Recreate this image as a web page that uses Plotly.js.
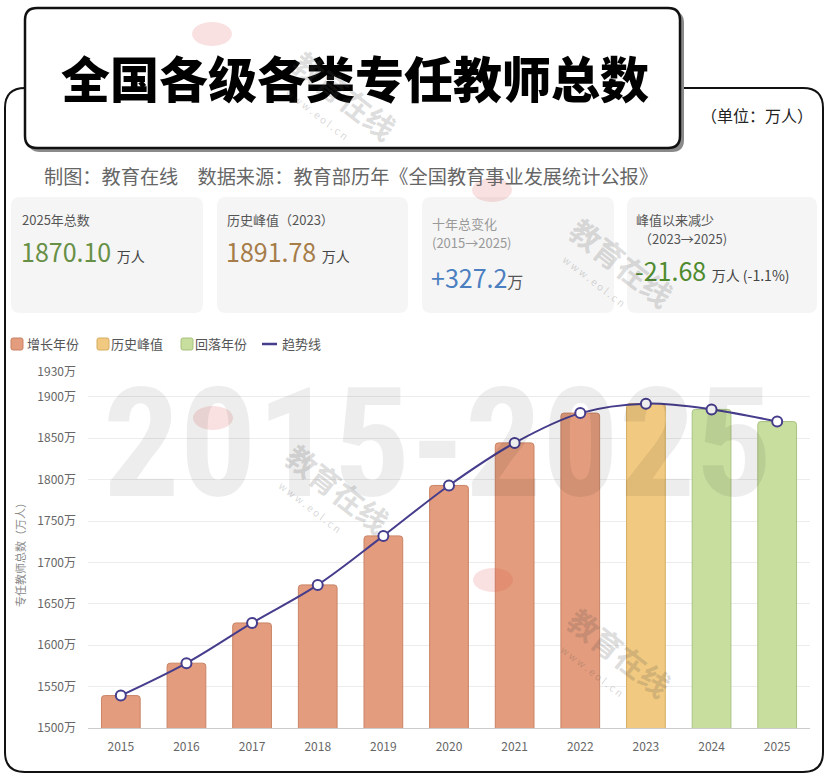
<!DOCTYPE html>
<html>
<head>
<meta charset="utf-8">
<script src="https://cdn.plot.ly/plotly-3.0.1.min.js"></script>
<style>html,body{margin:0;padding:0;background:#fff;}#chart{width:830px;height:778px;}</style>
</head>
<body>
<div id="chart"></div>
<script>
// ---- data ----
const years = ['2015','2016','2017','2018','2019','2020','2021','2022','2023','2024','2025'];
const teachers = [1539.16, 1578.29, 1626.89, 1672.85, 1732.03, 1792.97, 1844.37, 1880.36, 1891.78, 1884.8, 1870.10];
const yearStatus = ['增长年份','增长年份','增长年份','增长年份','增长年份','增长年份','增长年份','增长年份','历史峰值','回落年份','回落年份'];
const yTickVals = [1500, 1550, 1600, 1650, 1700, 1750, 1800, 1850, 1900, 1930];
const yTickText = ['1500万','1550万','1600万','1650万','1700万','1750万','1800万','1850万','1900万','1930万'];
const groupNames = ['增长年份','历史峰值','回落年份'];
const lineName = '趋势线';

const titleText = '全国各级各类专任教师总数';
const unitText = '（单位：万人）';
const sourceText = '制图：教育在线　数据来源：教育部历年《全国教育事业发展统计公报》';
const yTitle = '专任教师总数（万人）';
const watermark = '2015-2025';
const stampText = '教育在线';
const stampUrl = 'w w w . e o l . c n';

// ---- styles ----
const groupFill = {'增长年份':'#E39C7D','历史峰值':'#F1C980','回落年份':'#C8DE9F'};
const groupLine = {'增长年份':'#C98466','历史峰值':'#D5AD62','回落年份':'#A8C27F'};
const lineColor = '#463D8C';

// plot area in pixels
const L = 88, R = 810, T = 372, B = 728;
const px = x => (x - L) / (R - L);
const py = y => (B - y) / (B - T);

function rr(x0, y0, x1, y1, r) {
  const X = px, Y = py;
  return `M${X(x0+r)},${Y(y0)} L${X(x1-r)},${Y(y0)} Q${X(x1)},${Y(y0)} ${X(x1)},${Y(y0+r)} ` +
         `L${X(x1)},${Y(y1-r)} Q${X(x1)},${Y(y1)} ${X(x1-r)},${Y(y1)} L${X(x0+r)},${Y(y1)} ` +
         `Q${X(x0)},${Y(y1)} ${X(x0)},${Y(y1-r)} L${X(x0)},${Y(y0+r)} Q${X(x0)},${Y(y0)} ${X(x0+r)},${Y(y0)} Z`;
}

const traces = [];
groupNames.forEach(g => {
  const xs = [], ys = [];
  years.forEach((yr, i) => { if (yearStatus[i] === g) { xs.push(yr); ys.push(teachers[i]); } });
  traces.push({
    type: 'bar', name: g, x: xs, y: ys,
    marker: {color: groupFill[g], line: {color: groupLine[g], width: 1}, cornerradius: 3},
    hoverinfo: 'x+y', showlegend: false
  });
});
traces.push({
  type: 'scatter', mode: 'lines+markers', name: lineName, x: years, y: teachers,
  line: {color: lineColor, width: 2, shape: 'spline', smoothing: 1},
  marker: {size: 10, color: '#ffffff', line: {color: lineColor, width: 2}},
  showlegend: false
});

const shapes = [
  // outer frame
  {type:'path', xref:'paper', yref:'paper', path: rr(5, 88, 823, 772, 20), line:{color:'#111', width:2}, fillcolor:'rgba(0,0,0,0)', layer:'below'},
  // cards
  {type:'path', xref:'paper', yref:'paper', path: rr(11, 197, 203, 313, 9), line:{width:0}, fillcolor:'#F5F5F5', layer:'below'},
  {type:'path', xref:'paper', yref:'paper', path: rr(217, 197, 408, 313, 9), line:{width:0}, fillcolor:'#F5F5F5', layer:'below'},
  {type:'path', xref:'paper', yref:'paper', path: rr(422, 197, 614, 313, 9), line:{width:0}, fillcolor:'#F5F5F5', layer:'below'},
  {type:'path', xref:'paper', yref:'paper', path: rr(627, 197, 817, 313, 9), line:{width:0}, fillcolor:'#F5F5F5', layer:'below'},
  // title box shadow + box
  {type:'path', xref:'paper', yref:'paper', path: rr(28, 11, 684, 152, 12), line:{width:0}, fillcolor:'#8a8a8a', layer:'above'},
  {type:'path', xref:'paper', yref:'paper', path: rr(25, 8, 680, 148, 12), line:{color:'#111', width:2.5}, fillcolor:'#ffffff', layer:'above'}
];

// manual legend keys
const legendKeys = [
  {name: groupNames[0], x: 11, tx: 27},
  {name: groupNames[1], x: 97, tx: 111},
  {name: groupNames[2], x: 181, tx: 195},
  {name: lineName, x: 262, tx: 282}
];
legendKeys.forEach(k => {
  if (k.name === lineName) {
    shapes.push({type:'line', xref:'paper', yref:'paper', x0: px(k.x), x1: px(k.x + 15), y0: py(344), y1: py(344),
                 line:{color: lineColor, width: 2.5}, layer:'above'});
  } else {
    shapes.push({type:'path', xref:'paper', yref:'paper', path: rr(k.x, 338, k.x + 12, 350, 2),
                 line:{color: groupLine[k.name], width: 1}, fillcolor: groupFill[k.name], layer:'above'});
  }
});

// faint stamp logos
const stamps = [[212, 34], [213, 418], [493, 580], [492, 190]];
stamps.forEach(s => {
  shapes.push({type:'circle', xref:'paper', yref:'paper', x0: px(s[0]-20), x1: px(s[0]+20), y0: py(s[1]-12), y1: py(s[1]+12),
               line:{width:0}, fillcolor:'rgba(226,70,70,0.16)', layer:'above'});
});

const ann = (x, y, text, size, color, opts) => Object.assign({
  xref:'paper', yref:'paper', x: px(x), y: py(y), text: text, showarrow: false,
  xanchor:'left', yanchor:'middle', font:{size: size, color: color}, borderpad: 0, borderwidth: 0
}, opts || {});

const annotations = [
  // watermark (first, so it sits under the other texts)
  ann(437, 444, watermark, 152, 'rgba(0,0,0,0.07)', {xanchor:'center',
      font:{size:152, color:'rgba(0,0,0,0.07)', family:'Roboto Condensed, DejaVu Sans Condensed, DejaVu Sans', weight:700}}),
  ann(355, 76, titleText, 49, '#000', {xanchor:'center', font:{size:49, color:'#000', weight:900, family:'Noto Sans CJK SC'}}),
  ann(757, 115, unitText, 16, '#222', {xanchor:'center'}),
  ann(44, 176, sourceText, 19.2, '#666'),
  // card 1
  ann(22, 219, '2025年总数', 13, '#555'),
  ann(21, 251, '1870.10 <span style="font-size:14px;color:#444">万人</span>', 25, '#678F45'),
  // card 2
  ann(227, 219, '历史峰值（2023）', 13, '#555'),
  ann(226, 251, '1891.78 <span style="font-size:14px;color:#444">万人</span>', 25, '#A67C48'),
  // card 3
  ann(432, 223, '十年总变化', 13, '#999'),
  ann(432, 243, '(2015→2025)', 13, '#999'),
  ann(431, 277, '+327.2<span style="font-size:16px;color:#555">万</span>', 25, '#4C7FC0'),
  // card 4
  ann(636, 219, '峰值以来减少', 13, '#555'),
  ann(639, 239, '（2023→2025)', 13, '#555'),
  ann(635, 270, '-21.68 <span style="font-size:14px;color:#444">万人 (-1.1%)</span>', 25, '#4F8A2E'),
  // y axis title
  ann(20, 552, yTitle, 11, '#888', {xanchor:'center', textangle:-90})
];
legendKeys.forEach(k => annotations.push(ann(k.tx, 343, k.name, 13, '#555')));

// stamp texts
const stampPos = [[345, 95], [338, 488], [620, 652], [622, 262]];
stampPos.forEach(s => {
  annotations.push(ann(s[0], s[1], stampText, 30, 'rgba(80,80,80,0.2)', {xanchor:'center', textangle: 38,
    font:{size:30, color:'rgba(80,80,80,0.2)', weight:700}}));
  annotations.push(ann(s[0] - 28, s[1] + 18, stampUrl, 10, 'rgba(80,80,80,0.25)', {xanchor:'center', textangle: 38}));
});

const layout = {
  width: 830, height: 778,
  margin: {l: L, r: 830 - R, t: T, b: 778 - B, pad: 0},
  paper_bgcolor: '#ffffff', plot_bgcolor: '#ffffff',
  font: {family: 'Noto Sans CJK SC, Noto Sans, sans-serif', color: '#555'},
  barmode: 'overlay', bargap: 0.41,
  showlegend: false,
  xaxis: {type:'category', categoryorder:'array', categoryarray: years, range: [-0.5, 10.5],
          showline: true, linecolor:'#cccccc', linewidth: 1, ticks:'', showgrid:false,
          tickfont:{size:12, color:'#666'}, ticklabelstandoff: 8, fixedrange:true, automargin:false},
  yaxis: {range:[1500, 1930], tickvals: yTickVals, ticktext: yTickText,
          showgrid:true, gridcolor:'#ececec', gridwidth:1, zeroline:false, showline:false,
          tickfont:{size:12, color:'#666'}, ticks:'', ticklabelstandoff: 11, fixedrange:true, automargin:false},
  shapes: shapes, annotations: annotations
};

Plotly.newPlot('chart', traces, layout, {displayModeBar:false, staticPlot:true});
</script>
</body>
</html>
